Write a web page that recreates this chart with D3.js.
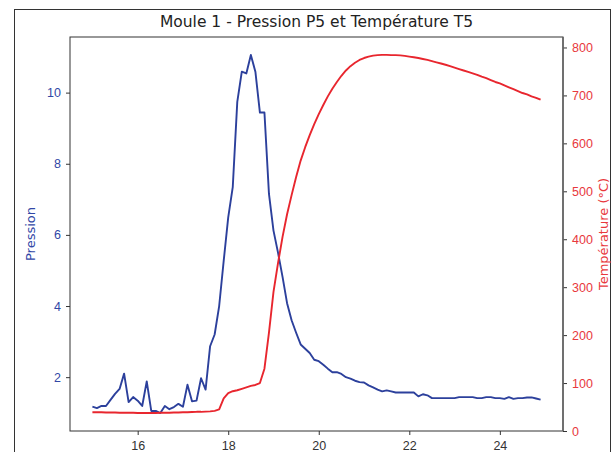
<!DOCTYPE html>
<html>
<head>
<meta charset="UTF-8">
<style>
  body { margin: 0; background: #fff; }
  svg { display: block; font-family: "DejaVu Sans", sans-serif; }
  .axis path, .axis line { stroke: #333; }
</style>
</head>
<body>
<svg></svg>
<script src="https://cdnjs.cloudflare.com/ajax/libs/d3/7.8.5/d3.min.js"></script>
<script>

// time (min)
const temps = [15.0,15.1,15.2,15.3,15.4,15.5,15.6,15.7,15.8,15.9,
  16.0,16.1,16.2,16.3,16.4,16.5,16.6,16.7,16.8,16.9,
  17.0,17.1,17.2,17.3,17.4,17.5,17.6,17.7,17.8,17.9,
  18.0,18.1,18.2,18.3,18.4,18.5,18.6,18.7,18.8,18.9,
  19.0,19.1,19.2,19.3,19.4,19.5,19.6,19.7,19.8,19.9,
  20.0,20.1,20.2,20.3,20.4,20.5,20.6,20.7,20.8,20.9,
  21.0,21.1,21.2,21.3,21.4,21.5,21.6,21.7,21.8,21.9,
  22.0,22.1,22.2,22.3,22.4,22.5,22.6,22.7,22.8,22.9,
  23.0,23.1,23.2,23.3,23.4,23.5,23.6,23.7,23.8,23.9,
  24.0,24.1,24.2,24.3,24.4,24.5,24.6,24.7,24.8,24.9];

// pression P5
const pression = [1.17,1.13,1.19,1.19,1.36,1.53,1.67,2.10,1.30,1.44,
  1.34,1.19,1.88,1.05,1.05,0.99,1.19,1.10,1.16,1.25,
  1.17,1.79,1.32,1.34,1.97,1.65,2.87,3.20,4.00,5.27,
  6.49,7.34,9.74,10.59,10.54,11.06,10.59,9.44,9.44,7.15,
  6.12,5.50,4.82,4.08,3.60,3.25,2.92,2.80,2.68,2.49,
  2.45,2.35,2.24,2.14,2.14,2.09,2.00,1.96,1.90,1.86,
  1.85,1.77,1.71,1.65,1.60,1.63,1.60,1.57,1.57,1.57,
  1.57,1.57,1.46,1.52,1.49,1.41,1.41,1.41,1.41,1.41,
  1.41,1.44,1.44,1.44,1.44,1.41,1.41,1.44,1.44,1.41,
  1.41,1.39,1.44,1.39,1.41,1.41,1.43,1.43,1.40,1.37];

// température T5 (°C)
const temperature = [39,39,39,38.5,38.5,38.5,38,38,38,38,
  37.5,37.5,37.5,37.5,37.5,38,38,38,38.5,38.5,
  39,39,39.5,40,40,40.5,41,42,45,68,
  79,83,85,88,91,94,96,100,130,205,
  290,350,405,452,492,530,564,592,617,640,
  661,680,698,714,728,741,752,761,768,774,
  778,781,783,784,784.5,784.5,784,784,783.5,782.5,
  781,779.5,778,776,774,771.5,769,766.5,764,761,
  758,755,752,749,746,743,739,736,732,728,
  725,721,717,713,709,705,702,698,695,691];

const xTicks = [16, 18, 20, 22, 24];
const pTicks = [2, 4, 6, 8, 10];
const tTicks = [0, 100, 200, 300, 400, 500, 600, 700, 800];

const width = 613, height = 452;
const margin = {left: 70, right: 50, top: 37, bottom: 21};
const blue = "#2c409c", blueTxt = "#3147a6";
const red = "#e8262e", redTxt = "#e8383d";

const svg = d3.select("svg").attr("width", width).attr("height", height);

// outer frame
svg.append("rect")
  .attr("x", 14.5).attr("y", 9.5)
  .attr("width", 596).attr("height", 500)
  .attr("fill", "none").attr("stroke", "#333").attr("stroke-width", 1);

// matplotlib style 5% margins
function pad(ext, lo) {
  let r = ext[1] - ext[0];
  return [lo !== undefined ? lo : ext[0] - 0.05 * r, ext[1] + 0.05 * r];
}

let x = d3.scaleLinear().domain(pad(d3.extent(temps)))
  .range([margin.left, width - margin.right]);
let yP = d3.scaleLinear().domain(pad(d3.extent(pression)))
  .range([height - margin.bottom, margin.top]);
let tExt = d3.extent(temperature);
let yT = d3.scaleLinear().domain([0, tExt[1] + 0.05 * (tExt[1] - tExt[0])])
  .range([height - margin.bottom, margin.top]);

let data = temps.map((t, i) => ({t: t, p: pression[i], T: temperature[i]}));

// x axis
let gx = svg.append("g").attr("class", "axis")
  .attr("transform", "translate(0," + (height - margin.bottom) + ")")
  .call(d3.axisBottom(x).tickValues(xTicks).tickSize(4).tickPadding(6).tickFormat(d3.format("d")));
gx.select(".domain").remove();
gx.selectAll("text").attr("font-size", 12.5).attr("fill", "#333");

// left axis
let gl = svg.append("g").attr("class", "axis")
  .attr("transform", "translate(" + margin.left + ",0)")
  .call(d3.axisLeft(yP).tickValues(pTicks).tickSize(4).tickPadding(5).tickFormat(d3.format("d")));
gl.select(".domain").remove();
gl.selectAll("text").attr("font-size", 12.5).attr("fill", blueTxt);

// right axis
let gr = svg.append("g").attr("class", "axis")
  .attr("transform", "translate(" + (width - margin.right) + ",0)")
  .call(d3.axisRight(yT).tickValues(tTicks).tickSize(4).tickPadding(5).tickFormat(d3.format("d")));
gr.select(".domain").remove();
gr.selectAll("text").attr("font-size", 12.5).attr("fill", redTxt);

// lines
let lineP = d3.line().x(d => x(d.t)).y(d => yP(d.p));
let lineT = d3.line().x(d => x(d.t)).y(d => yT(d.T));

svg.append("path").datum(data)
  .attr("d", lineP).attr("fill", "none")
  .attr("stroke", blue).attr("stroke-width", 1.9).attr("stroke-linejoin", "round");

svg.append("path").datum(data)
  .attr("d", lineT).attr("fill", "none")
  .attr("stroke", red).attr("stroke-width", 1.9).attr("stroke-linejoin", "round");

// plot frame
svg.append("rect")
  .attr("x", margin.left).attr("y", margin.top)
  .attr("width", width - margin.left - margin.right)
  .attr("height", height - margin.top - margin.bottom)
  .attr("fill", "none").attr("stroke", "#333").attr("stroke-width", 1);
svg.append("line")
  .attr("x1", width - margin.right).attr("x2", width - margin.right)
  .attr("y1", margin.top).attr("y2", height - margin.bottom)
  .attr("stroke", "#666").attr("stroke-width", 1.6);

// titles
svg.append("text")
  .attr("x", (margin.left + width - margin.right) / 2).attr("y", 27)
  .attr("text-anchor", "middle").attr("font-size", 15.5).attr("fill", "#222")
  .text("Moule 1 - Pression P5 et Température T5");

svg.append("text")
  .attr("transform", "translate(35," + ((margin.top + height - margin.bottom) / 2) + ") rotate(-90)")
  .attr("text-anchor", "middle").attr("font-size", 13).attr("fill", blueTxt)
  .text("Pression");

svg.append("text")
  .attr("transform", "translate(608," + ((margin.top + height - margin.bottom) / 2) + ") rotate(-90)")
  .attr("text-anchor", "middle").attr("font-size", 13).attr("fill", redTxt)
  .text("Température (°C)");

</script>
</body>
</html>
